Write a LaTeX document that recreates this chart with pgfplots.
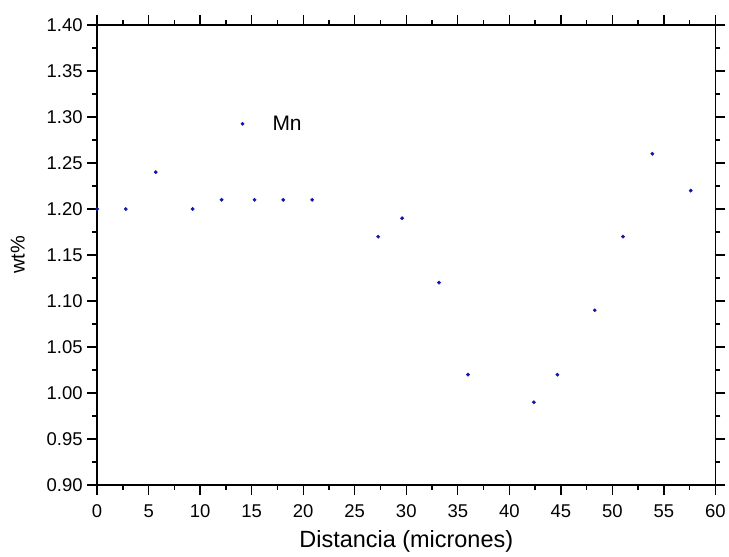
\documentclass[border=0pt]{standalone}
\usepackage{fontspec}
\setmainfont{Liberation Sans}
\usepackage{pgfplots}
\pgfplotsset{compat=1.18}
\definecolor{dotblue}{RGB}{20,20,170}
\begin{document}
\begin{tikzpicture}
\begin{axis}[
  scale only axis,
  width=619.4pt, height=461pt,
  xmin=0, xmax=60, ymin=0.90, ymax=1.40,
  xtick distance=5, ytick distance=0.05,
  minor x tick num=1, minor y tick num=1,
  tick align=outside,
  major tick length=10pt, minor tick length=5pt,
  every tick/.style={black, line width=1.4pt},
  axis line style={line width=1.6pt},
  xticklabel pos=lower, yticklabel pos=left,
  /pgf/number format/assume math mode=true,
  /pgf/number format/.cd, fixed, fixed zerofill, precision=2, /pgfplots/.cd,
  xticklabel={\pgfmathprintnumber[fixed,precision=0]{\tick}},
  tick label style={font=\fontsize{18.5}{20}\selectfont},
  xticklabel style={yshift=-6pt},
  yticklabel style={xshift=-1pt},
  xlabel={Distancia (micrones)},
  ylabel={wt\%},
  xlabel style={font=\fontsize{23.5}{25}\selectfont, yshift=-6pt},
  ylabel style={font=\fontsize{20}{22}\selectfont, yshift=15pt},
  legend style={at={(axis cs:13.62,1.2926)}, anchor=west, draw=none, fill=none,
    font=\fontsize{21}{23}\selectfont},
  legend image code/.code={\fill[dotblue] (0pt,0pt) circle (1.7pt); \path[draw=none] (0pt,0pt) -- (28pt,0pt);},
  legend cell align=left,
]
\addplot[only marks, mark=*, mark size=1.7pt, dotblue] coordinates {
(0,1.20) (2.78,1.20) (5.69,1.24) (9.27,1.20) (12.08,1.21) (15.28,1.21)
(18.06,1.21) (20.87,1.21) (27.27,1.17) (29.59,1.19) (33.18,1.12) (35.99,1.02)
(42.38,0.99) (44.67,1.02) (48.29,1.09) (51.04,1.17) (53.88,1.26) (57.6,1.22)
};
\addlegendentry{Mn}
\end{axis}
\path[use as bounding box] (-97.3pt,-72pt) rectangle (631.7pt,486pt);
\end{tikzpicture}
\end{document}
